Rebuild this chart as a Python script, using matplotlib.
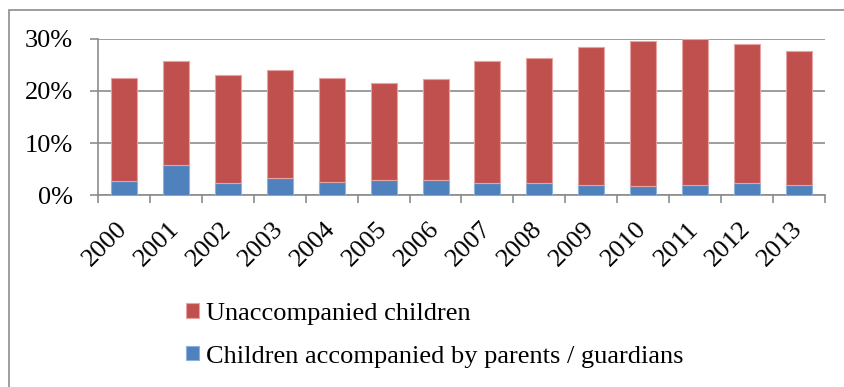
import numpy as np
import matplotlib.pyplot as plt
from matplotlib.patches import Rectangle
from matplotlib.ticker import FuncFormatter, FixedLocator

# data (share of all asylum applicants, %)
years = ['2000', '2001', '2002', '2003', '2004', '2005', '2006',
         '2007', '2008', '2009', '2010', '2011', '2012', '2013']
accompanied = [2.7, 5.75, 2.35, 3.25, 2.55, 2.9, 2.9,
               2.3, 2.4, 1.9, 1.7, 1.9, 2.3, 2.0]
total = [22.5, 25.7, 23.0, 24.0, 22.5, 21.5, 22.3,
         25.7, 26.3, 28.4, 29.6, 30.0, 29.0, 27.6]
unaccompanied = [t - a for t, a in zip(total, accompanied)]

plt.rcParams['font.family'] = 'Liberation Serif'

W, H = 845, 387
fig = plt.figure(figsize=(W / 100, H / 100), dpi=100)

# outer chart frame (cut off at right and bottom like the original)
fig.patches.append(Rectangle((9.5 / W, -0.1), 1.2, 1 - 9.7 / H + 0.1,
                             transform=fig.transFigure, fill=False,
                             edgecolor='#8c8c8c', linewidth=1.2))

ax = fig.add_axes([98 / W, 1 - 195.3 / H, (825 - 98) / W, (195.3 - 38.7) / H])

x = np.arange(len(years))
blue = '#4F81BD'
red = '#C0504D'
ax.bar(x, np.array(accompanied) / 100, width=0.5, color=blue,
       edgecolor='#8DB0DD', linewidth=0.8, zorder=3,
       label='Children accompanied by parents / guardians')
ax.bar(x, np.array(unaccompanied) / 100, width=0.5, bottom=np.array(accompanied) / 100,
       color=red, edgecolor='#E6A3A1', linewidth=0.8, zorder=3,
       label='Unaccompanied children')

ax.set_xlim(-0.5, len(years) - 0.5)
ax.set_ylim(0, 0.30)
ax.set_yticks([0, 0.1, 0.2, 0.3])
ax.yaxis.set_major_formatter(FuncFormatter(lambda v, p: '{:.0f}%'.format(v * 100)))
ax.grid(axis='y', color='#8c8c8c', linewidth=1.2, zorder=0)

ax.set_xticks(x)
ax.set_xticklabels(years, rotation=45, ha='right', va='center', rotation_mode='anchor')
ax.xaxis.set_minor_locator(FixedLocator(np.arange(-0.5, len(years), 1)))
ax.tick_params(axis='x', which='major', length=0, pad=22, labelsize=19)
ax.tick_params(axis='x', which='minor', length=6, color='#8c8c8c', width=1.2)
ax.tick_params(axis='y', length=6, color='#8c8c8c', width=1.2, labelsize=19, pad=12)

for s in ['top', 'right']:
    ax.spines[s].set_visible(False)
for s in ['left', 'bottom']:
    ax.spines[s].set_color('#8c8c8c')
    ax.spines[s].set_linewidth(1.2)

handles, labels = ax.get_legend_handles_labels()
fig.legend(handles[::-1], labels[::-1], loc='upper left',
           bbox_to_anchor=(186 / W, 1 - 303 / H), frameon=False, fontsize=19,
           handlelength=0.5, handleheight=0.46, handletextpad=0.25,
           labelspacing=0.78, borderpad=0, borderaxespad=0)

fig.savefig('out.png', dpi=100)
